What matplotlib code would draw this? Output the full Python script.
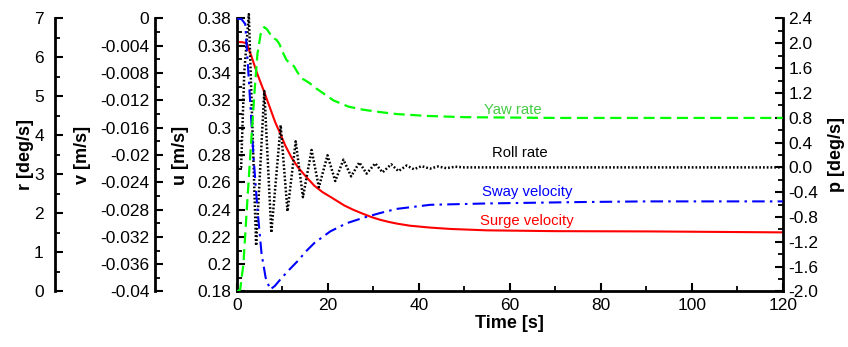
import matplotlib
matplotlib.use("Agg")
import matplotlib.pyplot as plt
from matplotlib.ticker import FixedLocator, MultipleLocator

# ---------------- data ----------------
# Surge velocity u [m/s]
t_u = [0, 1.0, 2.1, 3.2, 4.4, 6.0, 7.2, 8.4, 9.5, 10.6, 12.0, 13.4, 15.2, 17.0, 18.8, 20.7, 23.6, 25.6,
       27.8, 29.5, 31.4, 33.3, 35.2, 38.0, 42.5, 47.0, 54.9, 70.0, 90.8, 120]
u = [0.3627, 0.3627, 0.362, 0.352, 0.340, 0.326, 0.315, 0.304, 0.2958, 0.287, 0.278, 0.271, 0.264,
     0.2575, 0.2528, 0.249, 0.243, 0.2398, 0.2368, 0.2346, 0.2326, 0.2310, 0.2297, 0.2282, 0.2268,
     0.2258, 0.2248, 0.2242, 0.224, 0.2233]

# Sway velocity v [m/s]
t_v = [0, 1.0, 1.8, 2.6, 3.6, 4.5, 5.4, 6.3, 7.3, 8.3, 9.7, 11.5, 13.4, 15.2, 17.0, 20.5, 24.1, 27.8,
       31.5, 35.1, 42.5, 55, 75, 90, 120]
v = [0, -0.0001, -0.0008, -0.009, -0.020, -0.028, -0.0345, -0.038, -0.0397, -0.0392, -0.0381, -0.0368,
     -0.0355, -0.0341, -0.0329, -0.0312, -0.0300, -0.0292, -0.0285, -0.0279, -0.0273, -0.0271, -0.0269,
     -0.0268, -0.0268]

# Yaw rate r [deg/s]
t_r = [0, 0.7, 1.4, 2.2, 3.2, 3.9, 4.5, 5.2, 6.0, 6.6, 7.3, 8.0, 8.7, 9.3, 10.0, 10.8, 11.6, 12.5,
       13.4, 14.3, 15.2, 16.1, 17.5, 19.0, 21.2, 24.5, 27.8, 31.5, 35.1, 42, 50, 70, 120]
r = [0, 0.05, 0.7, 2.2, 4.0, 5.2, 6.1, 6.6, 6.78, 6.72, 6.6, 6.5, 6.45, 6.35, 6.15, 5.95, 5.85, 5.78,
     5.6, 5.46, 5.4, 5.33, 5.2, 5.08, 4.9, 4.74, 4.66, 4.6, 4.55, 4.5, 4.47, 4.45, 4.45]

# Roll rate p [deg/s]
t_p = [0, 0.9, 1.6, 2.6, 4.2, 6.0, 7.55, 9.6, 11.1, 12.9, 14.5, 16.4, 18.0, 19.9, 21.6, 23.4, 25.1,
       26.9, 28.5, 30.4, 32.0, 33.9, 35.5, 37.3, 38.9, 40.6, 42.4, 44.2, 46.0, 48.0, 50.0, 120]
p = [0, 0, 1.54, 2.47, -1.26, 1.23, -1.05, 0.68, -0.71, 0.42, -0.48, 0.28, -0.32, 0.195, -0.22, 0.125,
     -0.145, 0.08, -0.10, 0.065, -0.08, 0.05, -0.06, 0.03, -0.03, 0.02, -0.02, 0.015, -0.012, 0.01, 0, 0]

# ticks
x_ticks = [0, 20, 40, 60, 80, 100, 120]
u_ticks = [0.18, 0.2, 0.22, 0.24, 0.26, 0.28, 0.3, 0.32, 0.34, 0.36, 0.38]
u_labels = ['0.18', '0.2', '0.22', '0.24', '0.26', '0.28', '0.3', '0.32', '0.34', '0.36', '0.38']
v_ticks = [-0.04, -0.036, -0.032, -0.028, -0.024, -0.02, -0.016, -0.012, -0.008, -0.004, 0]
v_labels = ['-0.04', '-0.036', '-0.032', '-0.028', '-0.024', '-0.02', '-0.016', '-0.012', '-0.008',
            '-0.004', '0']
r_ticks = [0, 1, 2, 3, 4, 5, 6, 7]
r_labels = ['0', '1', '2', '3', '4', '5', '6', '7']
p_ticks = [-2.0, -1.6, -1.2, -0.8, -0.4, 0.0, 0.4, 0.8, 1.2, 1.6, 2.0, 2.4]
p_labels = ['-2.0', '-1.6', '-1.2', '-0.8', '-0.4', '0.0', '0.4', '0.8', '1.2', '1.6', '2.0', '2.4']

# ---------------- style ----------------
plt.rcParams['font.family'] = ['Liberation Sans', 'DejaVu Sans']
TICK_FS = 12.5
LAB_FS = 13
ANN_FS = 10.7
SPW = 2.0

fig = plt.figure(figsize=(8.48, 3.47), dpi=100)
ax = fig.add_axes([0.2795, 0.16, 0.6435, 0.7867])
axp = ax.twinx()
axv = ax.twinx()
axr = ax.twinx()


def style_ticks(a, which_axis='y'):
    a.tick_params(axis=which_axis, which='major', direction='in', length=6, width=1.5,
                  labelsize=TICK_FS, pad=4)
    a.tick_params(axis=which_axis, which='minor', direction='in', length=3.5, width=1.3)


# main u axis
ax.set_xlim(0, 120)
ax.set_ylim(0.18, 0.38)
for s in ['top', 'right']:
    ax.spines[s].set_visible(False)
for s in ['left', 'bottom']:
    ax.spines[s].set_linewidth(SPW)
ax.xaxis.set_major_locator(FixedLocator(x_ticks))
ax.xaxis.set_minor_locator(MultipleLocator(10))
ax.yaxis.set_major_locator(FixedLocator(u_ticks))
ax.set_yticklabels(u_labels)
ax.yaxis.set_minor_locator(MultipleLocator(0.01))
style_ticks(ax, 'y')
ax.tick_params(axis='x', which='major', direction='in', length=6, width=1.5, labelsize=TICK_FS, pad=5)
ax.tick_params(axis='x', which='minor', direction='in', length=3.5, width=1.3)
ax.set_xlabel('Time [s]', fontsize=LAB_FS, fontweight='bold', labelpad=1)
ax.set_ylabel('u [m/s]', fontsize=LAB_FS, fontweight='bold')
ax.yaxis.set_label_coords(-0.088, 0.5)

# p axis (right)
axp.set_ylim(-2.0, 2.4)
for s in ['top', 'left', 'bottom']:
    axp.spines[s].set_visible(False)
axp.spines['right'].set_linewidth(SPW)
axp.yaxis.set_major_locator(FixedLocator(p_ticks))
axp.set_yticklabels(p_labels)
axp.yaxis.set_minor_locator(MultipleLocator(0.2))
style_ticks(axp, 'y')
axp.set_ylabel('p [deg/s]', fontsize=LAB_FS, fontweight='bold')
axp.yaxis.set_label_coords(1.083, 0.5)

# v axis (offset left)
axv.set_ylim(-0.04, 0.0)
for s in ['top', 'right', 'bottom']:
    axv.spines[s].set_visible(False)
axv.spines['left'].set_visible(True)
axv.spines['left'].set_linewidth(SPW)
axv.spines['left'].set_position(('axes', -0.1503))
axv.yaxis.set_ticks_position('left')
axv.yaxis.set_label_position('left')
axv.yaxis.set_major_locator(FixedLocator(v_ticks))
axv.set_yticklabels(v_labels)
axv.yaxis.set_minor_locator(MultipleLocator(0.002))
style_ticks(axv, 'y')
axv.set_ylabel('v [m/s]', fontsize=LAB_FS, fontweight='bold')
axv.yaxis.set_label_coords(-0.2677, 0.5)

# r axis (offset far left)
axr.set_ylim(0, 7)
for s in ['top', 'right', 'bottom']:
    axr.spines[s].set_visible(False)
axr.spines['left'].set_visible(True)
axr.spines['left'].set_linewidth(SPW)
axr.spines['left'].set_position(('axes', -0.3336))
axr.yaxis.set_ticks_position('left')
axr.yaxis.set_label_position('left')
axr.yaxis.set_major_locator(FixedLocator(r_ticks))
axr.set_yticklabels(r_labels)
axr.yaxis.set_minor_locator(MultipleLocator(0.5))
style_ticks(axr, 'y')
axr.tick_params(axis='y', which='major', pad=8)
axr.set_ylabel('r [deg/s]', fontsize=LAB_FS, fontweight='bold')
axr.yaxis.set_label_coords(-0.372, 0.5)

# ---------------- curves ----------------
ax.plot(t_u, u, color='#FF0000', lw=1.5, solid_capstyle='butt')
axv.plot(t_v, v, color='#0000FF', lw=1.5, linestyle=(0, (6, 2.5, 1.2, 2.5)))
axr.plot(t_r, r, color='#00FF00', lw=1.6, linestyle=(0, (5, 2.5)))
axp.plot(t_p, p, color='#000000', lw=1.8, linestyle=(0, (0.7, 0.8)), clip_on=False)

# ---------------- annotations ----------------
ax.text(0.506, 0.664, 'Yaw rate', transform=ax.transAxes, color='#44CC44', fontsize=ANN_FS,
        ha='center', va='center')
ax.text(0.518, 0.506, 'Roll rate', transform=ax.transAxes, color='#000000', fontsize=ANN_FS,
        ha='center', va='center')
ax.text(0.531, 0.366, 'Sway velocity', transform=ax.transAxes, color='#0000FF', fontsize=ANN_FS,
        ha='center', va='center')
ax.text(0.531, 0.2566, 'Surge velocity', transform=ax.transAxes, color='#FF0000', fontsize=ANN_FS,
        ha='center', va='center')

fig.savefig('out.png', dpi=100)
